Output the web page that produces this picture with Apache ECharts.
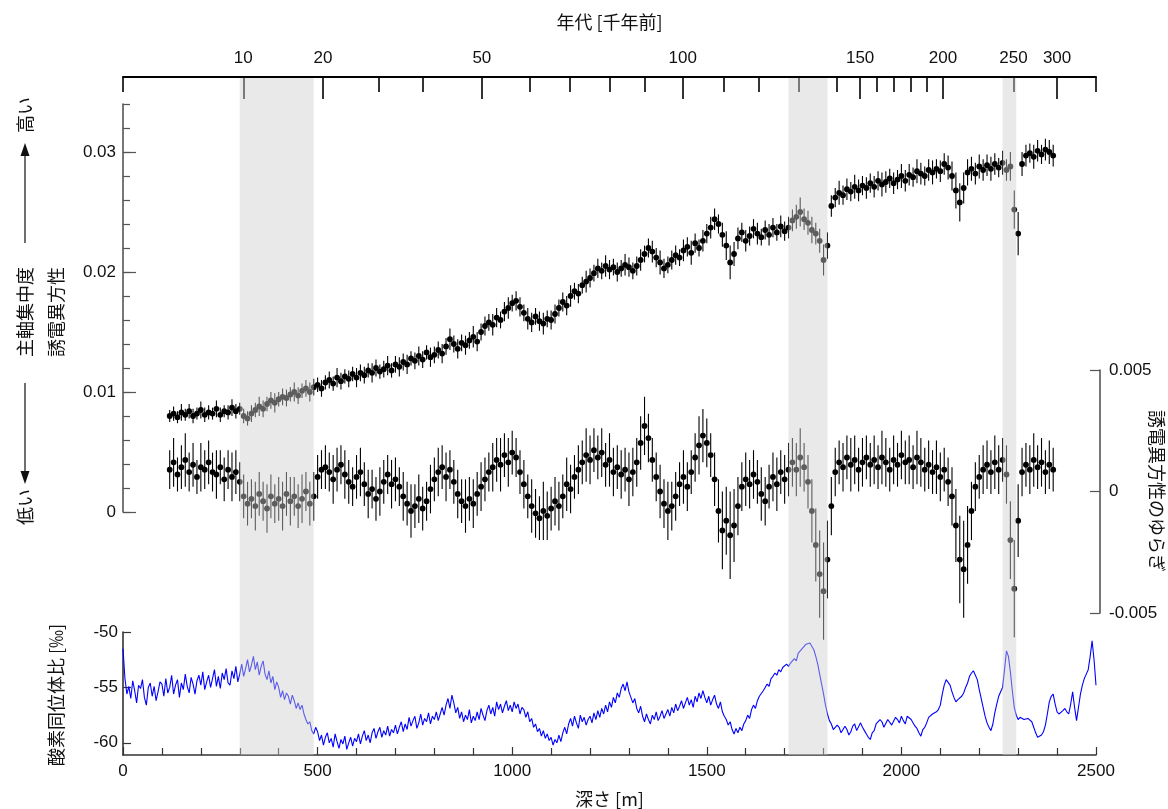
<!DOCTYPE html>
<html>
<head>
<meta charset="utf-8">
<script src="https://cdn.jsdelivr.net/npm/echarts@6/dist/echarts.min.js"></script>
<style>
html,body{margin:0;padding:0;background:#fff;}
#chart{width:1168px;height:809px;}
</style>
</head>
<body>
<div id="chart"></div>
<script>
// ---------- DATA ----------
// sampling of the dielectric-anisotropy profiles (depth, m)
const anisoStartDepth = 120;
const anisoStepDepth = 10;
// upper panel: dielectric anisotropy (principal-axis concentration)
const anisotropy = [
0.0080,0.0082,0.0079,0.0083,0.0081,0.0084,0.0080,0.0082,0.0085,0.0081,
0.0083,0.0082,0.0086,0.0081,0.0084,0.0083,0.0087,0.0084,0.0086,0.0080,
0.0078,0.0082,0.0085,0.0088,0.0086,0.0090,0.0093,0.0091,0.0094,0.0096,
0.0095,0.0098,0.0100,0.0097,0.0101,0.0103,0.0100,0.0104,0.0106,0.0103,
0.0108,0.0110,0.0107,0.0112,0.0109,0.0113,0.0111,0.0115,0.0112,0.0116,
0.0114,0.0118,0.0116,0.0120,0.0117,0.0119,0.0122,0.0118,0.0123,0.0121,
0.0125,0.0123,0.0128,0.0126,0.0130,0.0127,0.0133,0.0129,0.0131,0.0135,
0.0132,0.0138,0.0144,0.0140,0.0136,0.0141,0.0139,0.0143,0.0146,0.0142,
0.0150,0.0155,0.0158,0.0156,0.0162,0.0160,0.0167,0.0170,0.0174,0.0176,
0.0171,0.0166,0.0161,0.0158,0.0163,0.0159,0.0157,0.0161,0.0160,0.0165,
0.0170,0.0175,0.0172,0.0180,0.0184,0.0182,0.0189,0.0192,0.0195,0.0199,
0.0203,0.0201,0.0205,0.0202,0.0204,0.0200,0.0203,0.0206,0.0204,0.0201,
0.0205,0.0210,0.0215,0.0220,0.0217,0.0212,0.0208,0.0203,0.0206,0.0210,
0.0214,0.0212,0.0218,0.0221,0.0216,0.0224,0.0220,0.0226,0.0232,0.0237,
0.0244,0.0240,0.0231,0.0222,0.0208,0.0215,0.0228,0.0233,0.0226,0.0230,
0.0236,0.0232,0.0229,0.0235,0.0231,0.0237,0.0233,0.0238,0.0234,0.0237,
0.0243,0.0246,0.0250,0.0244,0.0241,0.0235,0.0232,0.0226,0.0210,0.0222,
0.0255,0.0262,0.0266,0.0264,0.0269,0.0267,0.0271,0.0268,0.0272,0.0270,
0.0274,0.0271,0.0276,0.0273,0.0275,0.0278,0.0274,0.0277,0.0280,0.0276,
0.0281,0.0279,0.0284,0.0282,0.0280,0.0285,0.0283,0.0286,0.0284,0.0290,
0.0287,0.0280,0.0268,0.0258,0.0270,0.0283,0.0286,0.0282,0.0288,0.0285,
0.0289,0.0286,0.0290,0.0287,0.0291,0.0285,0.0288,0.0252,0.0232,0.0290,
0.0297,0.0299,0.0296,0.0301,0.0298,0.0302,0.0300,0.0297
];
// error half-widths of the upper panel (units of 1e-4)
const anisotropyErr = [
5,6,5,7,5,6,6,5,7,6, 6,5,7,6,5,6,7,6,5,6, 6,7,6,8,7,6,7,8,6,7, 7,6,8,7,6,7,8,7,6,7,
6,7,6,8,7,6,7,6,8,7, 7,6,8,7,6,7,8,6,7,8, 7,8,6,7,8,7,6,8,7,7, 8,7,9,7,8,7,8,7,9,8,
7,8,7,9,8,7,8,9,7,8, 8,7,9,8,7,8,9,7,8,8, 7,8,8,9,7,8,7,9,8,7, 8,7,9,8,7,8,7,9,8,7,
8,9,7,8,9,8,10,8,7,8, 8,7,9,8,10,8,7,9,8,9, 9,8,10,12,14,10,9,8,9,8, 8,9,7,8,9,8,7,9,8,9,
9,10,12,9,10,11,9,10,13,11, 9,8,10,8,9,8,10,9,8,9, 8,9,8,10,9,8,9,8,10,9, 9,8,10,9,8,9,10,8,9,9,
10,12,15,16,13,11,10,9,10,9, 9,10,9,8,10,9,12,16,18,10, 9,8,10,9,8,9,10,9
];
// middle panel: fluctuation of dielectric anisotropy (units of 1e-4)
const fluctuation = [
9,12,7,10,13,8,11,6,10,9,
12,8,7,10,5,9,6,8,4,-2,
-5,-3,-6,-1,-4,-7,-2,-5,-3,-6,
-1,-4,-2,-6,-3,0,-5,-2,6,9,
10,8,5,9,11,7,4,2,6,8,
3,-1,1,-3,0,4,7,3,5,2,
-2,-5,-8,-6,-3,-7,-4,1,5,8,
10,6,9,4,-1,-4,-6,-3,-5,-1,
2,5,8,10,13,11,15,12,16,14,
8,3,-2,-6,-9,-11,-8,-10,-7,-4,
-6,-2,3,1,6,9,12,15,13,17,
14,16,11,13,8,10,7,9,5,8,
12,20,27,22,13,6,0,-5,-8,-6,
-2,3,6,2,8,14,19,23,20,15,
5,-8,-16,-12,-18,-14,-6,2,5,3,
7,4,-1,-4,2,6,3,8,5,9,
12,9,14,10,4,-8,-22,-34,-41,-28,
-6,8,12,10,14,11,13,9,12,14,
11,13,10,14,12,9,13,11,15,12,
13,10,14,12,9,11,8,10,6,9,
4,-2,-14,-28,-32,-22,-8,2,6,9,
11,8,12,9,13,7,-20,-40,-12,8,
11,9,13,10,12,8,11,9
];
// error half-widths of the middle panel (units of 1e-4)
const fluctuationErr = [
8,10,7,9,11,8,9,7,10,8, 9,8,10,7,9,8,10,9,8,9, 9,8,10,9,8,10,9,8,9,10, 9,10,8,9,10,8,9,10,9,8,
9,8,10,9,8,10,9,8,9,10, 9,10,8,9,10,9,8,10,9,8, 10,9,11,9,10,9,8,10,9,10, 9,10,8,9,10,9,11,9,10,9,
10,9,8,10,9,11,9,10,9,8, 9,10,9,11,10,9,12,10,9,10, 10,9,11,10,9,10,9,11,10,9, 9,10,9,11,10,9,10,9,11,10,
10,11,12,10,9,10,11,10,12,10, 10,9,11,10,9,10,12,11,10,9, 11,13,16,14,18,15,12,10,11,10, 10,9,11,10,9,10,11,9,10,11,
10,11,12,10,11,13,15,18,20,16, 12,10,9,10,9,11,10,9,10,9, 9,10,9,11,10,9,10,9,10,9, 10,9,11,10,9,10,9,11,10,9,
10,12,15,18,20,16,12,10,9,10, 10,9,11,10,9,12,16,20,15,10, 9,10,11,9,10,9,10,9
];
// lower panel: oxygen isotope ratio, every 5 m from 0 to 2500 m
const isoStepDepth = 5;
const oxygenIsotope = [
-51.5,-54.2,-55.6,-54.9,-56.0,-54.4,-55.3,-56.4,-54.8,-55.1,-54.3,-55.9,-56.6,-55.0,-54.6,-55.8,-54.9,-56.2,-55.4,-54.5,
-54.7,-55.8,-54.2,-55.5,-55.0,-53.9,-55.6,-54.8,-54.3,-55.9,-54.6,-55.2,-53.8,-54.9,-55.5,-54.1,-54.7,-55.6,-54.4,-53.9,
-54.8,-53.6,-55.2,-54.5,-53.9,-55.0,-54.2,-53.4,-54.9,-54.0,-55.1,-53.7,-54.3,-53.3,-54.6,-54.8,-53.5,-54.2,-53.1,-54.5,
-53.8,-52.9,-54.0,-53.3,-52.5,-53.6,-53.0,-52.2,-53.4,-52.7,-53.9,-53.1,-52.6,-53.8,-54.3,-53.5,-54.6,-54.0,-55.2,-54.5,
-55.0,-55.9,-55.3,-56.1,-55.5,-55.8,-56.5,-55.7,-56.2,-56.9,-56.4,-57.0,-56.6,-57.4,-57.9,-58.3,-58.1,-58.9,-59.2,-58.6,
-59.0,-59.8,-59.3,-60.2,-59.5,-59.1,-60.0,-59.6,-60.4,-59.2,-59.9,-60.5,-59.7,-60.1,-59.4,-60.6,-60.0,-59.5,-60.3,-59.6,
-59.9,-59.2,-60.1,-59.4,-58.9,-59.8,-59.3,-60.0,-59.1,-58.7,-59.6,-59.0,-58.6,-59.5,-58.9,-59.3,-58.5,-59.4,-58.8,-59.1,
-58.4,-59.2,-58.6,-58.1,-59.0,-58.3,-58.8,-57.7,-58.5,-58.0,-57.6,-58.7,-58.2,-57.4,-58.4,-57.8,-58.1,-57.3,-58.3,-57.6,
-57.9,-57.2,-58.0,-57.4,-56.8,-57.5,-56.6,-56.0,-56.9,-55.7,-56.4,-57.3,-56.8,-57.8,-57.2,-58.1,-57.5,-57.9,-57.0,-58.2,
-57.6,-58.0,-57.2,-57.9,-56.9,-57.5,-58.0,-57.1,-56.6,-57.4,-56.8,-57.6,-56.3,-57.0,-56.5,-57.3,-56.7,-56.2,-57.1,-56.6,
-57.2,-56.3,-56.9,-56.5,-57.4,-56.8,-57.0,-57.7,-57.2,-58.1,-57.8,-58.6,-58.3,-59.0,-58.7,-59.4,-58.9,-59.6,-59.2,-59.8,
-59.5,-60.2,-59.7,-60.0,-59.3,-59.9,-59.1,-58.6,-59.2,-58.3,-57.8,-58.5,-57.6,-58.2,-58.7,-57.5,-58.1,-57.7,-58.4,-57.9,
-57.6,-58.2,-57.3,-57.9,-57.1,-57.7,-56.9,-57.4,-56.6,-57.2,-56.3,-56.8,-55.9,-56.4,-55.5,-55.9,-55.1,-54.7,-55.3,-54.5,
-55.4,-55.9,-56.4,-56.0,-56.9,-57.3,-56.7,-57.6,-58.1,-57.4,-57.9,-58.3,-57.5,-57.9,-57.2,-58.0,-57.6,-57.1,-57.8,-57.4,
-57.0,-57.6,-56.8,-57.3,-56.5,-57.1,-56.7,-56.2,-56.9,-56.4,-55.9,-56.6,-56.1,-56.8,-55.8,-56.3,-55.5,-56.0,-55.3,-55.9,
-56.4,-55.8,-56.6,-56.1,-55.7,-56.5,-56.9,-56.3,-57.2,-57.6,-57.9,-58.4,-58.1,-58.8,-59.2,-58.7,-59.1,-58.6,-58.9,-58.3,
-58.0,-57.5,-57.8,-57.0,-56.6,-56.9,-56.2,-55.8,-55.9,-55.3,-55.0,-54.7,-54.9,-54.2,-54.0,-53.7,-53.9,-53.4,-53.6,-53.2,
-53.3,-52.9,-53.1,-52.8,-52.9,-52.4,-52.6,-51.9,-52.0,-51.5,-51.6,-51.1,-51.2,-51.0,-51.3,-51.6,-52.2,-52.9,-53.8,-54.7,
-55.6,-56.6,-57.4,-58.0,-58.3,-58.8,-58.9,-58.4,-58.6,-59.1,-59.2,-58.5,-58.8,-59.3,-59.0,-58.5,-58.3,-58.9,-58.8,-58.2,
-58.6,-58.9,-59.2,-59.5,-59.7,-59.1,-58.9,-58.3,-58.4,-57.9,-58.1,-58.6,-58.5,-57.9,-58.0,-58.4,-58.3,-57.7,-57.9,-58.2,
-57.6,-58.0,-58.3,-57.6,-57.5,-57.9,-57.8,-58.5,-58.7,-59.1,-59.4,-58.8,-58.6,-58.2,-57.7,-57.7,-57.4,-57.4,-57.2,-57.0,
-56.6,-55.6,-54.8,-54.3,-54.2,-54.8,-55.4,-55.9,-56.3,-56.1,-56.0,-55.8,-55.5,-55.0,-54.6,-54.0,-53.7,-53.5,-53.6,-54.3,
-55.2,-56.0,-56.8,-57.6,-58.2,-58.6,-58.9,-58.3,-57.3,-56.5,-55.8,-55.4,-55.0,-53.4,-51.7,-52.2,-53.6,-55.3,-56.8,-57.5,
-57.9,-57.7,-57.6,-57.9,-58.0,-57.8,-57.7,-58.1,-58.6,-59.1,-59.5,-59.5,-59.3,-59.0,-58.4,-57.4,-56.3,-55.8,-55.6,-56.5,
-57.2,-57.4,-57.5,-57.1,-56.9,-57.2,-57.4,-56.5,-55.4,-56.8,-58.0,-56.8,-55.6,-54.8,-54.2,-53.8,-53.4,-52.2,-50.8,-52.5,
-54.8
];
// shaded depth intervals [from, to] (m)
const shadedStart = [300, 1710, 2260];
const shadedEnd = [490, 1810, 2295];
// age axis (ka) ticks placed at depth (m)
const ageLabels = [10, 20, 50, 100, 150, 200, 250, 300];
const ageLabelDepths = [309, 514, 922, 1438, 1894, 2107, 2288, 2400];
const ageMajorDepths = [309, 514, 922, 1438, 1894, 2107, 2400];
const ageMinorDepths = [0, 656, 771, 1044, 1147, 1250, 1341, 1543, 1633, 1737, 1834, 1937, 1980, 2023, 2064, 2288, 2500];
// tick labels
const anisoTicks = [0, 0.01, 0.02, 0.03];
const fluctTicks = [-0.005, 0, 0.005];
const isoTicks = [-60, -55, -50];

// ---------- BUILD ----------
const anisoData = anisotropy.map((v, i) => [anisoStartDepth + i * anisoStepDepth, v, anisotropyErr[i] * 1e-4]);
const fluctData = fluctuation.map((v, i) => [anisoStartDepth + i * anisoStepDepth, v * 1e-4, fluctuationErr[i] * 1e-4]);
const isoData = oxygenIsotope.map((v, i) => [i * isoStepDepth, v]);
const shadeData = shadedStart.map((s, i) => [s, shadedEnd[i]]);

const FONT = '"Liberation Sans", "Noto Sans CJK JP", sans-serif';
const JFONT = '"Noto Sans CJK JP", sans-serif';
const JF = '18px "Noto Sans CJK JP", sans-serif';
const TXT = '#111';
const AX = '#333';

function errRender(params, api) {
  const x = api.value(0), y = api.value(1), e = api.value(2);
  const p = api.coord([x, y]);
  const lo = api.coord([x, y - e]);
  const hi = api.coord([x, y + e]);
  return {
    type: 'group',
    children: [
      { type: 'line', shape: { x1: p[0], y1: lo[1], x2: p[0], y2: hi[1] }, style: { stroke: '#000', lineWidth: 1.1 } },
      { type: 'circle', shape: { cx: p[0], cy: p[1], r: 2.9 }, style: { fill: '#000' } }
    ]
  };
}
function shadeRender(params, api) {
  const a = api.coord([api.value(0), 1]);
  const b = api.coord([api.value(1), 0]);
  return {
    type: 'rect',
    shape: { x: a[0], y: a[1] + 1, width: b[0] - a[0], height: b[1] - a[1] - 1 },
    style: { fill: '#cfcfcf', opacity: 0.45 }
  };
}

const L = 123, R = 72;
const mkGrid = (top, bottom) => ({ left: L, right: R, top: top, bottom: bottom, containLabel: false, outerBoundsMode: 'none' });
const chart = echarts.init(document.getElementById('chart'), null, { renderer: 'canvas' });
const hiddenX = (g) => ({ gridIndex: g, type: 'value', min: 0, max: 2500, show: false, axisLine: { onZero: false } });
const option = {
  animation: false,
  backgroundColor: '#fff',
  textStyle: { fontFamily: FONT },
  grid: [
    mkGrid(77, 54),   // 0 shading + top axis (minor ticks)
    mkGrid(77, 54),   // 1 top axis (major ticks + labels)
    mkGrid(104, 297), // 2 anisotropy data + minor ticks
    mkGrid(104, 297), // 3 anisotropy major ticks + labels
    mkGrid(370, 196), // 4 fluctuation
    mkGrid(632, 54)   // 5 isotope
  ],
  xAxis: [
    {
      gridIndex: 0, type: 'value', min: 0, max: 2500, position: 'top',
      axisLine: { show: true, onZero: false, lineStyle: { color: '#000', width: 2 } },
      axisTick: { show: true, inside: true, length: 15, customValues: ageMinorDepths, lineStyle: { color: '#000', width: 1.6 } },
      axisLabel: { show: false },
      splitLine: { show: false },
      name: '年代 [千年前]', nameLocation: 'middle', nameGap: 46,
      nameTextStyle: { fontFamily: JFONT, fontSize: 18, color: TXT }
    },
    {
      gridIndex: 1, type: 'value', min: 0, max: 2500, position: 'top',
      axisLine: { show: false, onZero: false },
      axisTick: { show: true, inside: true, length: 22, customValues: ageMajorDepths, lineStyle: { color: '#000', width: 1.6 } },
      axisLabel: {
        show: true, margin: 10, fontSize: 17, color: TXT, fontFamily: FONT,
        customValues: ageLabelDepths,
        formatter: (v) => { const i = ageLabelDepths.indexOf(v); return i >= 0 ? String(ageLabels[i]) : ''; }
      },
      splitLine: { show: false }
    },
    hiddenX(2), hiddenX(3), hiddenX(4),
    {
      gridIndex: 5, type: 'value', min: 0, max: 2500, interval: 500, position: 'bottom',
      axisLine: { show: true, onZero: false, lineStyle: { color: AX, width: 1.6 } },
      axisTick: { show: true, inside: true, length: 8, lineStyle: { color: AX, width: 1.2 } },
      minorTick: { show: true, splitNumber: 5, length: 7, lineStyle: { color: AX, width: 1.2 } },
      axisLabel: { show: true, margin: 8, fontSize: 17, color: TXT, formatter: (v) => String(v) },
      splitLine: { show: false },
      name: '深さ [m]', nameLocation: 'middle', nameGap: 35,
      nameTextStyle: { fontFamily: JFONT, fontSize: 18, color: TXT }
    }
  ],
  yAxis: [
    { gridIndex: 0, type: 'value', min: 0, max: 1, show: false, axisLine: { onZero: false } },
    { gridIndex: 1, type: 'value', min: 0, max: 1, show: false, axisLine: { onZero: false } },
    {
      gridIndex: 2, type: 'value', min: 0, max: 0.034, interval: 0.002, position: 'left',
      axisLine: { show: true, onZero: false, lineStyle: { color: '#555', width: 1.6 } },
      axisTick: { show: true, inside: true, length: 7, lineStyle: { color: '#555', width: 1.2 } },
      axisLabel: { show: false },
      splitLine: { show: false }
    },
    {
      gridIndex: 3, type: 'value', min: 0, max: 0.034, position: 'left',
      axisLine: { show: false, onZero: false },
      axisTick: { show: true, inside: true, length: 13, customValues: anisoTicks, lineStyle: { color: '#555', width: 1.2 } },
      axisLabel: { show: true, margin: 7, fontSize: 17, color: TXT, customValues: anisoTicks },
      splitLine: { show: false }
    },
    {
      gridIndex: 4, type: 'value', min: -0.005, max: 0.005, interval: 0.005, position: 'right', offset: 4,
      axisLine: { show: true, onZero: false, lineStyle: { color: '#555', width: 1.6 } },
      axisTick: { show: true, inside: true, length: 10, lineStyle: { color: '#555', width: 1.2 } },
      axisLabel: { show: true, margin: 9, fontSize: 17, color: TXT, customValues: fluctTicks },
      splitLine: { show: false }
    },
    {
      gridIndex: 5, type: 'value', min: -61.1, max: -50, position: 'left',
      axisLine: { show: true, onZero: false, lineStyle: { color: AX, width: 1.6 } },
      axisTick: { show: true, inside: true, length: 8, customValues: isoTicks, lineStyle: { color: AX, width: 1.2 } },
      axisLabel: { show: true, margin: 5, fontSize: 17, color: TXT, customValues: isoTicks },
      splitLine: { show: false }
    }
  ],
  series: [
    {
      type: 'custom', xAxisIndex: 2, yAxisIndex: 2, data: anisoData, renderItem: errRender,
      encode: { x: 0, y: 1 }, z: 2, silent: true, clip: false
    },
    {
      type: 'custom', xAxisIndex: 4, yAxisIndex: 4, data: fluctData, renderItem: errRender,
      encode: { x: 0, y: 1 }, z: 2, silent: true, clip: false
    },
    {
      type: 'line', xAxisIndex: 5, yAxisIndex: 5, data: isoData, showSymbol: false, symbol: 'none',
      lineStyle: { color: '#0000ff', width: 1.1 }, z: 2, silent: true
    },
    {
      type: 'custom', xAxisIndex: 0, yAxisIndex: 0, data: shadeData, renderItem: shadeRender,
      encode: { x: [0, 1] }, z: 20, silent: true
    }
  ],
  graphic: [
    { type: 'text', x: 25, y: 115, rotation: Math.PI / 2, style: { text: '高い', font: JF, fill: TXT, align: 'center', verticalAlign: 'middle' } },
    { type: 'line', shape: { x1: 25, y1: 243, x2: 25, y2: 152 }, style: { stroke: '#222', lineWidth: 1.3 } },
    { type: 'polygon', shape: { points: [[25, 143], [20.5, 156], [29.5, 156]] }, style: { fill: '#111' } },
    { type: 'text', x: 25, y: 312, rotation: Math.PI / 2, style: { text: '主軸集中度', font: JF, fill: TXT, align: 'center', verticalAlign: 'middle' } },
    { type: 'line', shape: { x1: 25, y1: 383, x2: 25, y2: 473 }, style: { stroke: '#222', lineWidth: 1.3 } },
    { type: 'polygon', shape: { points: [[25, 484], [20.5, 471], [29.5, 471]] }, style: { fill: '#111' } },
    { type: 'text', x: 25, y: 507, rotation: Math.PI / 2, style: { text: '低い', font: JF, fill: TXT, align: 'center', verticalAlign: 'middle' } },
    { type: 'text', x: 56, y: 312, rotation: Math.PI / 2, style: { text: '誘電異方性', font: JF, fill: TXT, align: 'center', verticalAlign: 'middle' } },
    { type: 'text', x: 56, y: 695, rotation: Math.PI / 2, style: { text: '酸素同位体比 [‰]', font: JF, fill: TXT, align: 'center', verticalAlign: 'middle' } },
    { type: 'text', x: 1157, y: 491, rotation: -Math.PI / 2, style: { text: '誘電異方性のゆらぎ', font: JF, fill: TXT, align: 'center', verticalAlign: 'middle' } }
  ]
};
chart.setOption(option);
</script>
</body>
</html>
